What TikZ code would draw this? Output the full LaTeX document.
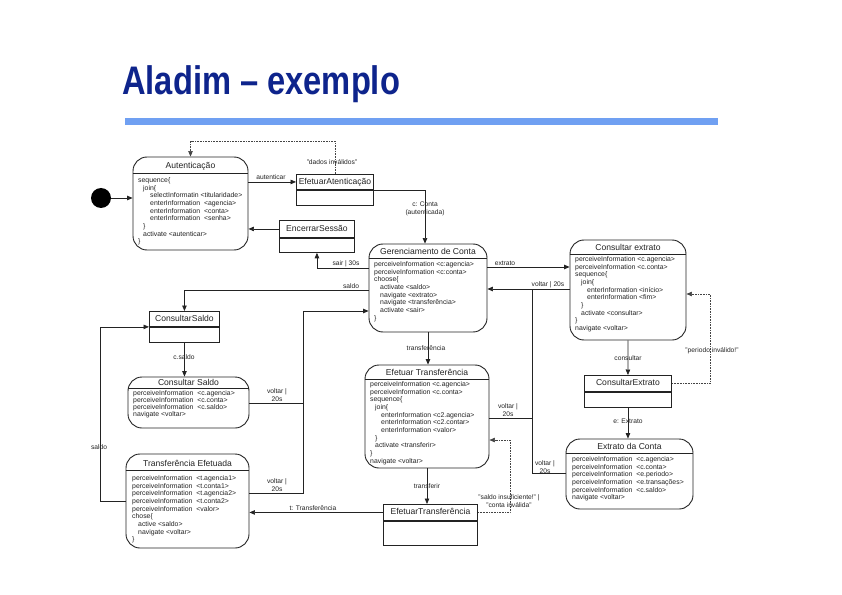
\documentclass[tikz,border=0pt]{standalone}
\usepackage{fontspec}
\setmainfont{Liberation Sans}
\usepackage{graphicx}
\usetikzlibrary{arrows.meta}
\definecolor{titleblue}{RGB}{14,36,140}
\definecolor{barblue}{RGB}{112,160,242}
\definecolor{ink}{RGB}{35,35,35}
\tikzset{
  statebox/.style={draw=ink, line width=0.9bp, rounded corners=14bp},
  actbox/.style={draw=ink, line width=0.9bp, inner sep=0pt,
    font=\fontsize{8.6}{10}\selectfont, text=ink, text height=6.2bp, text depth=1.8bp},
  ttl/.style={font=\fontsize{8.6}{10}\selectfont, text=ink, inner sep=0pt, anchor=base},
  body/.style={font=\fontsize{6.9}{7.7}\selectfont, text=ink, align=left, anchor=north west, inner sep=0pt},
  lbl/.style={font=\fontsize{6.7}{7.6}\selectfont, text=ink, align=center, inner sep=0pt},
  sepline/.style={draw=ink, line width=0.9bp},
  flow/.style={draw=ink, line width=0.7bp, -{Triangle[length=5.5bp,width=4.5bp]}},
  plain/.style={draw=ink, line width=0.7bp},
  guard/.style={draw=ink!85, line width=0.6bp, densely dotted, -{Triangle[length=5.5bp,width=4.5bp]}},
}
\newcommand{\ind}[1]{\hspace*{#1bp}}
\begin{document}
\begin{tikzpicture}[x=1bp, y=-1bp]
\useasboundingbox (0,0) rectangle (842,595);
\fill[white] (0,0) rectangle (842,595);

% heading and rule
\node[anchor=base west, inner sep=0pt, text=titleblue,
  font=\fontsize{40}{40}\selectfont\bfseries] (title) at (122,95)
  {\scalebox{0.82}[1]{Aladim – exemplo}};
\fill[barblue] (125,118) rectangle (718,125);

% initial pseudo-state
\node[circle, fill=black, minimum size=20bp, inner sep=0pt] (init) at (101,198) {};

% ---------- states ----------
% Autenticacao
\node[statebox, minimum width=115bp, minimum height=93bp] (aut) at (190.5,203.5) {};
\draw[sepline] (aut.west |- 0,173) -- (aut.east |- 0,173);
\node[ttl] (autT) at (190.5,169) {Autenticação};
\node[body] (autB) at (138,177.2) {sequence\{\\
\ind{5}join\{\\
\ind{12}selectInformatin <titularidade>\\
\ind{12}enterInformation\ \ <agencia>\\
\ind{12}enterInformation\ \ <conta>\\
\ind{12}enterInformation\ \ <senha>\\
\ind{5}\}\\
\ind{5}activate <autenticar>\\
\}};

% Gerenciamento de Conta
\node[statebox, minimum width=118bp, minimum height=88bp] (ger) at (428,288) {};
\draw[sepline] (ger.west |- 0,258) -- (ger.east |- 0,258);
\node[ttl] (gerT) at (428,254) {Gerenciamento de Conta};
\node[body] (gerB) at (374,261.2) {perceiveInformation <c:agencia>\\
perceiveInformation <c:conta>\\
choose\{\\
\ind{6}activate <saldo>\\
\ind{6}navigate <extrato>\\
\ind{6}navigate <transferência>\\
\ind{6}activate <sair>\\
\}};

% Consultar extrato
\node[statebox, minimum width=116bp, minimum height=100bp] (ce) at (628,290) {};
\draw[sepline] (ce.west |- 0,254) -- (ce.east |- 0,254);
\node[ttl] (ceT) at (628,250.5) {Consultar extrato};
\node[body] (ceB) at (575,256.2) {perceiveInformation <c.agencia>\\
perceiveInformation <c.conta>\\
sequence\{\\
\ind{6}join\{\\
\ind{12}enterInformation <início>\\
\ind{12}enterInformation <fim>\\
\ind{6}\}\\
\ind{6}activate <consultar>\\
\}\\
navigate <voltar>};

% Extrato da Conta
\node[statebox, minimum width=127bp, minimum height=70bp] (ec) at (629.5,474) {};
\draw[sepline] (ec.west |- 0,453) -- (ec.east |- 0,453);
\node[ttl] (ecT) at (629.5,449.5) {Extrato da Conta};
\node[body] (ecB) at (572,456.2) {perceiveInformation\ \ <c.agencia>\\
perceiveInformation\ \ <c.conta>\\
perceiveInformation\ \ <e.periodo>\\
perceiveInformation\ \ <e.transações>\\
perceiveInformation\ \ <c.saldo>\\
navigate <voltar>};

% Consultar Saldo
\node[statebox, minimum width=121bp, minimum height=51bp] (csal) at (188.5,402.5) {};
\draw[sepline] (csal.west |- 0,388) -- (csal.east |- 0,388);
\node[ttl] (csalT) at (188.5,385.5) {Consultar Saldo};
\node[body, font=\fontsize{6.9}{7.2}\selectfont] (csalB) at (133,390.2) {perceiveInformation\ \ <c.agencia>\\
perceiveInformation\ \ <c.conta>\\
perceiveInformation\ \ <c.saldo>\\
navigate <voltar>};

% Transferencia Efetuada
\node[statebox, minimum width=123bp, minimum height=94bp] (te) at (187.5,501) {};
\draw[sepline] (te.west |- 0,470) -- (te.east |- 0,470);
\node[ttl] (teT) at (187.5,466) {Transferência Efetuada};
\node[body] (teB) at (132,475.2) {perceiveInformation\ \ <t.agencia1>\\
perceiveInformation\ \ <t.conta1>\\
perceiveInformation\ \ <t.agencia2>\\
perceiveInformation\ \ <t.conta2>\\
perceiveInformation\ \ <valor>\\
chose\{\\
\ind{6}active <saldo>\\
\ind{6}navigate <voltar>\\
\}};

% Efetuar Transferencia
\node[statebox, minimum width=124bp, minimum height=103bp] (et) at (427,416.5) {};
\draw[sepline] (et.west |- 0,379) -- (et.east |- 0,379);
\node[ttl] (etT) at (427,375.5) {Efetuar Transferência};
\node[body] (etB) at (370,381.2) {perceiveInformation <c.agencia>\\
perceiveInformation <c.conta>\\
sequence\{\\
\ind{5}join\{\\
\ind{11}enterInformation <c2.agencia>\\
\ind{11}enterInformation <c2.contar>\\
\ind{11}enterInformation <valor>\\
\ind{5}\}\\
\ind{5}activate <transferir>\\
\}\\
navigate <voltar>};

% ---------- action boxes (name + empty compartment) ----------
\node[actbox, minimum width=77bp, minimum height=15bp, anchor=north west] (ea) at (296,174) {EfetuarAtenticação};
\node[actbox, minimum width=77bp, minimum height=15bp, anchor=north] (eaB) at (ea.south) {};

\node[actbox, minimum width=75bp, minimum height=17bp, anchor=north west] (es) at (279,220) {EncerrarSessão};
\node[actbox, minimum width=75bp, minimum height=14bp, anchor=north] (esB) at (es.south) {};

\node[actbox, minimum width=70bp, minimum height=15bp, anchor=north west] (cs) at (149,311) {ConsultarSaldo};
\node[actbox, minimum width=70bp, minimum height=15bp, anchor=north] (csB) at (cs.south) {};

\node[actbox, minimum width=87bp, minimum height=16bp, anchor=north west] (cx) at (584,375) {ConsultarExtrato};
\node[actbox, minimum width=87bp, minimum height=15bp, anchor=north] (cxB) at (cx.south) {};

\node[actbox, minimum width=94bp, minimum height=16bp, anchor=north west] (etb) at (383,504) {EfetuarTransferência};
\node[actbox, minimum width=94bp, minimum height=24bp, anchor=north] (etbB) at (etb.south) {};

% ---------- transitions ----------
\draw[flow] (init) -- (aut.west |- init);

\draw[flow] (aut.east |- ea.west) -- (ea.west);
\node[lbl] (lAut) at (271,177) {autenticar};

\draw[guard] (ea.north) -- (ea.north |- 0,141) -| (aut.north);
\node[lbl] (lInv) at (332,162) {"dados inválidos"};

\draw[flow] (ea.south east) -- ([xshift=-3bp]ger.north |- ea.south east) -- ([xshift=-3bp]ger.north);
\node[lbl] (lConta) at (425,209) {c: Conta\\(autenticada)};

\draw[flow] (es.west) -- (aut.east |- es.west);

\draw[flow] (ger.west |- 0,268) -| (esB.south);
\node[lbl] (lSair) at (346,264) {sair | 30s};

\draw[flow] (ger.west |- 0,290) -| (cs.north);
\node[lbl] (lSaldo) at (351,286.5) {saldo};

\draw[flow] (ger.east |- 0,267) -- (ce.west |- 0,267);
\node[lbl] (lExt) at (505,263) {extrato};

\draw[flow] (ce.west |- 0,289) -- (ger.east |- 0,289);
\node[lbl] (lV1) at (548,284.5) {voltar | 20s};

\coordinate (jR) at (532,289);
\draw[plain] (et.east |- 0,418) -| (jR);
\node[lbl] (lV2) at (508,410) {voltar |\\20s};
\draw[plain] (ec.west |- 0,473) -| (jR);
\node[lbl] (lV3) at (545,467) {voltar |\\20s};

\draw[flow] (ce.south) -- (cx.north);
\node[lbl] (lCons) at (628,358) {consultar};

\draw[guard] (cx.east) -- (cx.east -| 710,0) |- (ce.east |- 0,294);
\node[lbl] (lPer) at (712,351) {"periodo inválido!"};

\draw[flow] (cxB.south) -- (cxB.south |- ec.north);
\node[lbl] (lE) at (628,421.5) {e: Extrato};

\draw[flow] (csB.south) -- (csB.south |- csal.north);
\node[lbl] (lCs) at (184,357) {c.saldo};

\coordinate (jL) at (303,311);
\draw[flow] (csal.east |- 0,403) -| (jL) -- (ger.west |- jL);
\node[lbl] (lV4) at (277,395) {voltar |\\20s};
\draw[plain] (te.east |- 0,493) -| (jL |- 0,403);
\node[lbl] (lV5) at (277,485) {voltar |\\20s};

\draw[flow] (te.west |- 0,501) -- (100,501) |- (cs.south west);
\node[lbl] (lSaldo2) at (99,447) {saldo};

\draw[flow] (ger.south) -- (ger.south |- et.north);
\node[lbl] (lTr) at (426,348) {transferência};

\draw[flow] (et.south) -- (et.south |- etb.north);
\node[lbl] (lTf) at (427,486) {transferir};

\draw[flow] (etb.west) -- (te.east |- etb.west);
\node[lbl] (lTT) at (313,508) {t: Transferência};

\draw[guard] (etb.east) -- (etb.east -| 510,0) |- (et.east |- 0,440);
\node[lbl] (lIns) at (509,501) {"saldo insuficiente!" |\\"conta inválida"};

\end{tikzpicture}
\end{document}
